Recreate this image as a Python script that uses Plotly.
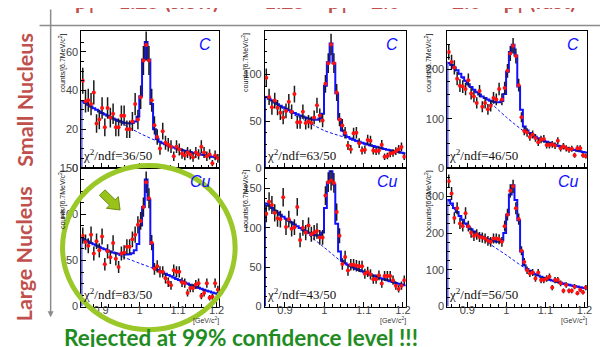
import math
import plotly.graph_objects as go

W, H = 608, 347

# ---------------- data ----------------
bin_lo = 0.849
bin_w = 0.00716
n_bins = 50
centers = [bin_lo + bin_w * (i + 0.5) for i in range(n_bins)]
edges = [bin_lo + bin_w * i for i in range(n_bins + 1)]

x_ticks = [0.9, 1.0, 1.1, 1.2]
x_ticktext = ["0.9", "1", "1.1", "1.2"]
bg_x = [0.849, 0.9, 0.95, 1.0, 1.05, 1.1, 1.15, 1.207]

# Small nucleus (C)
c_slow_pts = [45, 34.5, 35, 33, 39, 23, 25, 31, 21, 31, 26, 28, 21, 21, 27, 27, 20, 20, 24, 33,
              25, 36.5, 55.5, 63.5, 55.5, 35, 22, 16, 10, 19, 13, 12, 11, 6, 11, 9.5, 7.5, 6.5, 8, 7,
              5.5, 8, 7, 11, 8, 6, 7, 2.5, 6.5, 5]
c_slow_fit = [34.5, 33.5, 32.6, 31.7, 30.8, 30, 29.2, 28.4, 27.6, 26.9, 26.2, 25.5, 24.9, 24.3, 23.8,
              23.4, 23.1, 23.0, 23.2, 24.0, 26.5, 37, 56, 65, 56, 33, 20, 15, 13.5, 12.8, 12.2, 11.6,
              11.1, 10.6, 10.1, 9.7, 9.3, 8.9, 8.5, 8.2, 7.9, 7.6, 7.3, 7.0, 6.7, 6.4, 6.1, 5.8, 5.5, 5.2]
c_slow_bg = [34.5, 29, 23.5, 18, 13.5, 10, 7.2, 5]

c_mid_pts = [96.5, 76, 65, 72, 64.5, 59, 54, 61, 70.7, 60, 79, 49, 49, 60, 48, 49.6, 48, 54, 67, 56,
             50.7, 90, 112, 132, 112, 80.7, 51.7, 45.5, 37.6, 24, 20, 37, 37.6, 26.5, 18.6, 19.6, 30,
             29, 18.6, 18, 18.6, 24.8, 12, 12.8, 15.5, 16, 18, 20, 22.4, 12]
c_mid_fit = [76, 74, 72, 70, 68.2, 66.5, 64.8, 63.2, 61.7, 60.2, 58.8, 57.4, 56.1, 54.9, 53.8, 52.8,
             52, 51.5, 51.5, 53, 58, 88, 113, 133, 112, 80, 52, 40, 35, 33, 31.5, 30.3, 29.2, 28.1,
             27.1, 26.1, 25.2, 24.3, 23.4, 22.6, 21.8, 21, 20.3, 19.6, 18.9, 18.2, 17.6, 17, 16.4, 15.8]
c_mid_bg = [77, 62, 51, 40, 33, 25.5, 20, 15.5]

c_fast_pts = [235, 215, 204, 181, 167, 165, 160, 178, 151, 145, 132, 156, 124, 132, 119, 126, 142,
              139, 160, 139, 162, 197, 232, 248, 227, 168, 103, 75, 72, 63, 68, 61, 52, 58, 59, 46.5,
              46.5, 48, 45, 55, 40, 44, 40, 37, 39, 26, 40, 40, 26, 24]
c_fast_fit = [213, 209, 204, 198, 191, 184, 177, 170, 164, 158.5, 153.5, 149, 145, 142, 139, 136.5,
              134.5, 133.5, 133.5, 136, 150, 195, 235, 250, 228, 165, 118, 84, 76, 71, 67, 63.5,
              60.5, 57.5, 55, 53, 51, 49, 47, 45.3, 43.6, 42, 40.4, 39, 37.6, 36.3, 35, 33.8, 32.6, 31.5]
c_fast_bg = [216, 171, 139, 103, 72, 53, 40, 31]

# Large nucleus (Cu)
cu_slow_pts = [77, 70, 66, 78, 57.7, 71, 61, 76, 46, 60, 53.5, 69, 51.8, 43, 57.7, 58.8, 65, 65, 73,
               78, 88.7, 93, 108, 135, 117.6, 69.4, 41, 43.7, 37.7, 37.7, 30.6, 26.4, 23, 39.4, 37.7,
               37.7, 26.4, 25.4, 14.8, 20, 20, 24, 25.4, 11.3, 14.8, 25.4, 9.5, 10.6, 25.4, 18.3]
cu_slow_fit = [73.5, 72, 70.5, 69, 67.6, 66.2, 64.8, 63.4, 62.1, 60.9, 59.8, 58.8, 57.9, 57.2, 56.7,
               56.4, 56.4, 56.8, 58, 61, 68, 88, 108, 138, 116, 68, 42, 40, 38.5, 37, 35.6, 34.2,
               32.8, 31.4, 30, 28.7, 27.4, 26.1, 24.9, 23.7, 22.5, 21.4, 20.3, 19.2, 18.2, 17.2,
               16.2, 15.2, 14.3, 13.4]
cu_slow_bg = [74, 64, 55, 47, 39, 28.5, 20, 13]

cu_mid_pts = [118, 133.5, 129, 119, 112, 111, 138.8, 101, 111, 98.8, 100.8, 126.5, 84.5, 100, 94, 103,
              91.8, 94, 96, 87.8, 87.8, 141, 158, 160, 157, 120, 90, 54, 63, 45.7, 53, 53, 51.8, 51,
              51, 41.6, 44, 40.8, 34.7, 34.7, 39.6, 29.4, 38.8, 38.8, 38.8, 33.5, 26.5, 22.4, 26.5, 33.5]
cu_mid_fit = [131, 128, 125, 122, 119.3, 116.6, 114, 111.5, 109, 106.6, 104.2, 101.9, 99.7, 97.6,
              95.6, 93.8, 92.3, 91, 90.3, 90.5, 94, 125, 158, 172, 155, 105, 70, 58, 55, 53, 51.2,
              49.5, 47.9, 46.3, 44.8, 43.4, 42, 40.7, 39.4, 38.1, 36.9, 35.7, 34.5, 33.3, 32.2, 31.1,
              30, 29, 28, 27]
cu_mid_bg = [132, 113, 95, 75, 55, 42.5, 34, 26.5]

cu_fast_pts = [341, 307.5, 241, 267.5, 225.8, 218.7, 254, 218.7, 201, 192, 196, 189, 187.5, 185,
               178.7, 176, 185, 185, 183, 176, 218.7, 250, 314.7, 327, 267.5, 238, 152, 121, 98.7,
               89.8, 92.4, 76.4, 92.4, 72, 72, 76.4, 81, 51.6, 72, 72, 63, 42.7, 58.7, 42.7, 42.7,
               54, 36.4, 45.3, 39, 51.6]
cu_fast_fit = [290, 280, 268, 257, 246, 236, 226, 217, 210, 204, 198, 194, 190, 186, 183, 180.5,
               178.5, 177, 176.5, 180, 200, 250, 305, 330, 290, 235, 150, 112, 102, 97, 92, 88, 84.5,
               81, 78, 75.5, 73, 70.5, 68.5, 66.5, 64.5, 62.5, 60.7, 59, 57.3, 55.7, 54.2, 52.7, 51.3, 50]
cu_fast_bg = [292, 218, 176, 140, 103, 76, 59, 48]

y_max = [70.5, 146, 277, 150.5, 176, 377]
y_dtick = [20, 50, 100, 50, 50, 100]
targets = ["C", "C", "C", "Cu", "Cu", "Cu"]
chi2 = ["36/50", "63/50", "46/50", "83/50", "43/50", "56/50"]
col_titles = ["p<sub>T</sub> &lt; 1.25 (slow)", "1.25 &lt; p<sub>T</sub> &lt; 2.0", "2.0 &lt; p<sub>T</sub> (fast)"]
row_titles = ["Small Nucleus", "Large Nucleus"]

panels = [
    (c_slow_pts, c_slow_fit, c_slow_bg),
    (c_mid_pts, c_mid_fit, c_mid_bg),
    (c_fast_pts, c_fast_fit, c_fast_bg),
    (cu_slow_pts, cu_slow_fit, cu_slow_bg),
    (cu_mid_pts, cu_mid_fit, cu_mid_bg),
    (cu_fast_pts, cu_fast_fit, cu_fast_bg),
]

# ---------------- layout helpers ----------------
def X(px):
    return px / W

def Y(py):
    return 1 - py / H

col_px = [(74, 213), (259, 401), (443, 584)]
row_px = [(18, 159.5), (159.5, 303)]
x_range = [0.849, 1.207]

RED = "#c0504d"
BLUE = "#1010ff"
SANS = "Liberation Sans, Arial, sans-serif"
SLIDE = "Lato, Open Sans, sans-serif"

fig = go.Figure()
layout = dict(
    width=W, height=H, margin=dict(l=0, r=0, t=0, b=0),
    paper_bgcolor="white", plot_bgcolor="white", showlegend=False,
)
annotations = []
shapes = []

for k, (pts, fit, bg) in enumerate(panels):
    r, c = divmod(k, 3)
    ax = "" if k == 0 else str(k + 1)
    xa, ya = "x" + ax, "y" + ax
    x0, x1 = col_px[c]
    t, b = row_px[r]

    fig.add_trace(go.Scatter(
        x=bg_x, y=bg, xaxis=xa, yaxis=ya, mode="lines",
        line=dict(color=BLUE, width=1, dash="3px,2px", shape="spline", smoothing=0.8),
        hoverinfo="skip"))
    fig.add_trace(go.Scatter(
        x=[edges[0]] + edges[:-1] + [edges[-1]], y=[0] + fit + [fit[-1]],
        xaxis=xa, yaxis=ya, mode="lines",
        line=dict(color=BLUE, width=2, shape="hv"), hoverinfo="skip"))
    fig.add_trace(go.Scatter(
        x=centers, y=pts, xaxis=xa, yaxis=ya, mode="markers",
        marker=dict(color="#ff1010", size=4),
        error_y=dict(type="sqrt", color="#1a1a1a", thickness=1.5, width=0)))

    common_axis = dict(showline=True, linecolor="black", linewidth=1, mirror=True,
                       ticks="inside", tickcolor="black", showgrid=False, zeroline=False,
                       tickfont=dict(family=SANS, size=11, color="#444"))
    layout["xaxis" + ax] = dict(
        domain=[X(x0), X(x1)], range=x_range, anchor=ya,
        tickvals=x_ticks, ticktext=x_ticktext, ticklen=5, ticklabelstandoff=-7,
        minor=dict(ticks="inside", ticklen=2.5, dtick=0.02, tickcolor="black"),
        showticklabels=(r == 1), **common_axis)
    layout["yaxis" + ax] = dict(
        domain=[Y(b), Y(t)], range=[0, y_max[k]], anchor=xa,
        dtick=y_dtick[k], tick0=0, ticklen=5,
        minor=dict(ticks="inside", ticklen=2.5, dtick=y_dtick[k] / 4, tickcolor="black"),
        **common_axis)

    # y axis title
    annotations.append(dict(
        text="counts/[6.7MeV/c<sup>2</sup>]", x=X(x0 - 19), y=Y(t), xref="paper", yref="paper",
        xanchor="center", yanchor="top", textangle=-90, showarrow=False,
        font=dict(family=SANS, size=7, color="#111")))
    # target label
    annotations.append(dict(
        text="<i>" + targets[k] + "</i>", x=X(x1 - 6), y=Y(t + 14), xref="paper", yref="paper",
        xanchor="right", yanchor="middle", showarrow=False,
        font=dict(family=SANS, size=16, color=BLUE)))
    # chi2 label
    annotations.append(dict(
        text="χ<sup>2</sup>/ndf=" + chi2[k], x=X(x0), y=Y(b - 13), xref="paper", yref="paper",
        xanchor="left", yanchor="middle", showarrow=False,
        font=dict(family="Liberation Serif, serif", size=13, color="#111")))
    if r == 1:
        annotations.append(dict(
            text="[GeV/c<sup>2</sup>]", x=X(x1 + 2), y=Y(317), xref="paper", yref="paper",
            xanchor="right", yanchor="middle", showarrow=False,
            font=dict(family=SANS, size=7, color="#333")))

# column titles (cut off by the top of the slide)
for c, title in enumerate(col_titles):
    cx = (col_px[c][0] + col_px[c][1]) / 2
    annotations.append(dict(
        text="<b>" + title + "</b>", x=X(cx - 3), y=Y(4), xref="paper", yref="paper",
        xanchor="center", yanchor="bottom", showarrow=False,
        font=dict(family=SLIDE, size=21, color=RED)))

# row titles
for r, title in enumerate(row_titles):
    cy = [89, 248][r]
    annotations.append(dict(
        text="<b>" + title + "</b>", x=X(17), y=Y(cy), xref="paper", yref="paper",
        xanchor="center", yanchor="middle", textangle=-90, showarrow=False,
        font=dict(family=SLIDE, size=21.5, color=RED)))

# bottom statement
annotations.append(dict(
    text="<b>Rejected at 99% confidence level !!!</b>", x=X(235), y=Y(335),
    xref="paper", yref="paper", xanchor="center", yanchor="middle", showarrow=False,
    font=dict(family=SLIDE, size=22.5, color="#1e8c1e")))

# gray guide arrows
annotations.append(dict(
    x=X(606), y=Y(12), ax=-(606 - 35), ay=0, xref="paper", yref="paper", axref="pixel", ayref="pixel",
    text="", showarrow=True, arrowhead=2, arrowsize=0.8, arrowwidth=1.5, arrowcolor="#8c8c8c"))
annotations.append(dict(
    x=X(43), y=Y(314), ax=0, ay=-(314 - 4), xref="paper", yref="paper", axref="pixel", ayref="pixel",
    text="", showarrow=True, arrowhead=2, arrowsize=0.8, arrowwidth=1.5, arrowcolor="#8c8c8c"))

# green highlight ellipse
shapes.append(dict(type="circle", xref="paper", yref="paper",
                   x0=X(55), x1=X(229), y0=Y(327), y1=Y(157),
                   line=dict(color="#9ac829", width=5)))

# green block arrow
tail, tip = (95, 185), (113, 203)
dx, dy = tip[0] - tail[0], tip[1] - tail[1]
L = math.hypot(dx, dy)
ux, uy = dx / L, dy / L
nx, ny = -uy, ux
sw, hw, hl = 4, 8.5, 11
bx, by = tip[0] - ux * hl, tip[1] - uy * hl
poly = [
    (tail[0] + nx * sw, tail[1] + ny * sw), (bx + nx * sw, by + ny * sw), (bx + nx * hw, by + ny * hw),
    tip, (bx - nx * hw, by - ny * hw), (bx - nx * sw, by - ny * sw), (tail[0] - nx * sw, tail[1] - ny * sw),
]
path = "M " + " L ".join(f"{X(px):.5f},{Y(py):.5f}" for px, py in poly) + " Z"
shapes.append(dict(type="path", xref="paper", yref="paper", path=path,
                   fillcolor="#99c21a", line=dict(color="#6e8c10", width=1)))

layout["annotations"] = annotations
layout["shapes"] = shapes
fig.update_layout(**layout)
fig.write_html("out.html")
